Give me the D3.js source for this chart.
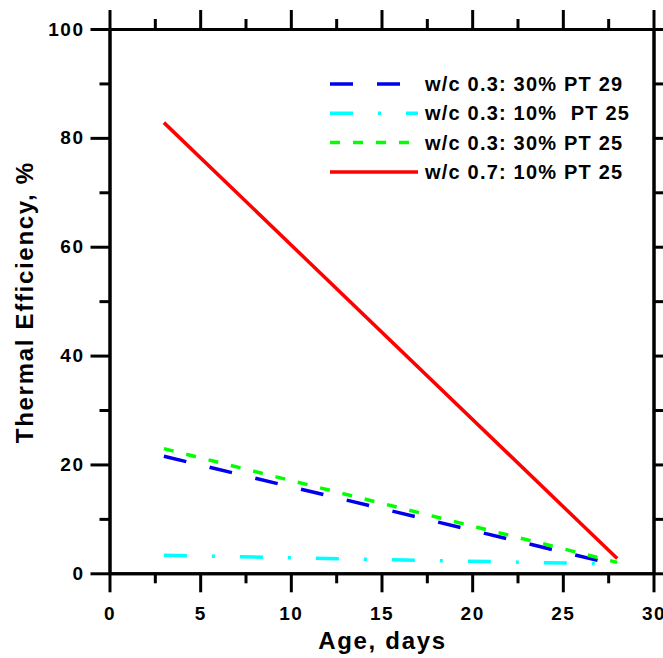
<!DOCTYPE html>
<html>
<head>
<meta charset="utf-8">
<script src="https://cdn.jsdelivr.net/npm/d3@7"></script>
<style>
  body { margin: 0; background: #fff; }
  text { font-family: Arial, "Liberation Sans", sans-serif; font-weight: bold; }
</style>
</head>
<body>
<script>
const w = 663;
const h = 658;

// values
const ages = [3, 28];
const wc03_30_pt29 = [21.5, 1.5];
const wc03_10_pt25 = [3.3, 1.7];
const wc03_30_pt25 = [22.9, 2.0];
const wc07_10_pt25 = [82.8, 2.7];

const xTicks = [0, 5, 10, 15, 20, 25, 30];
const xMinor = [2.5, 7.5, 12.5, 17.5, 22.5, 27.5];
const yTicks = [0, 20, 40, 60, 80, 100];
const yMinor = [10, 30, 50, 70, 90];

const series = [
    { name: "w/c 0.3: 30% PT 29", values: wc03_30_pt29, color: "#0000ee", dash: "23,24" },
    { name: "w/c 0.3: 10%  PT 25", values: wc03_10_pt25, color: "#00ffff", dash: "23,25,3,25" },
    { name: "w/c 0.3: 30% PT 25", values: wc03_30_pt25, color: "#00ff00", dash: "10,13" },
    { name: "w/c 0.7: 10% PT 25", values: wc07_10_pt25, color: "#ff0000", dash: null },
];

const plotLeft = 109.5, plotRight = 653.5, plotTop = 29, plotBottom = 573.3;

const svg = d3.select("body")
    .append("svg")
    .attr("width", w)
    .attr("height", h)
    ;

const xScale = d3.scaleLinear().domain([0, 30]).range([plotLeft, plotRight]);
const yScale = d3.scaleLinear().domain([0, 100]).range([plotBottom, plotTop]);

function styleAxis(g) {
    g.selectAll(".domain").attr("stroke", "#000").attr("stroke-width", 3);
    g.selectAll(".tick line").attr("stroke", "#000").attr("stroke-width", 3);
    g.selectAll(".tick text")
        .attr("fill", "#000")
        .style("font-size", "19px")
        .style("letter-spacing", "1.5px");
}

// major axes
svg.append("g")
    .attr("transform", `translate(0, ${plotBottom})`)
    .call(d3.axisBottom(xScale).tickValues(xTicks).tickSize(19).tickSizeOuter(0).tickPadding(14))
    .call(styleAxis);
svg.append("g")
    .attr("transform", `translate(0, ${plotTop})`)
    .call(d3.axisTop(xScale).tickValues(xTicks).tickSize(19).tickSizeOuter(0).tickFormat(""))
    .call(styleAxis);
svg.append("g")
    .attr("transform", `translate(${plotLeft}, 0)`)
    .call(d3.axisLeft(yScale).tickValues(yTicks).tickSize(19).tickSizeOuter(0).tickPadding(6))
    .call(styleAxis);
svg.append("g")
    .attr("transform", `translate(${plotRight}, 0)`)
    .call(d3.axisRight(yScale).tickValues(yTicks).tickSize(19).tickSizeOuter(0).tickFormat(""))
    .call(styleAxis);

// minor ticks
svg.append("g")
    .attr("transform", `translate(0, ${plotBottom})`)
    .call(d3.axisBottom(xScale).tickValues(xMinor).tickSize(10).tickSizeOuter(0).tickFormat(""))
    .call(styleAxis);
svg.append("g")
    .attr("transform", `translate(0, ${plotTop})`)
    .call(d3.axisTop(xScale).tickValues(xMinor).tickSize(10).tickSizeOuter(0).tickFormat(""))
    .call(styleAxis);
svg.append("g")
    .attr("transform", `translate(${plotLeft}, 0)`)
    .call(d3.axisLeft(yScale).tickValues(yMinor).tickSize(10).tickSizeOuter(0).tickFormat(""))
    .call(styleAxis);
svg.append("g")
    .attr("transform", `translate(${plotRight}, 0)`)
    .call(d3.axisRight(yScale).tickValues(yMinor).tickSize(10).tickSizeOuter(0).tickFormat(""))
    .call(styleAxis);

// axis titles
svg.append("text")
    .attr("x", (plotLeft + plotRight) / 2 + 1)
    .attr("y", 649)
    .attr("text-anchor", "middle")
    .style("font-size", "24px")
    .style("letter-spacing", "1.7px")
    .text("Age, days");
svg.append("text")
    .attr("transform", `translate(33, ${(plotTop + plotBottom) / 2 + 1}) rotate(-90)`)
    .attr("text-anchor", "middle")
    .style("font-size", "24px")
    .style("letter-spacing", "1.7px")
    .text("Thermal Efficiency, %");

// lines
const line = d3.line()
    .x((d, i) => xScale(ages[i]))
    .y(d => yScale(d));

svg.selectAll("path.series")
    .data(series)
    .enter()
    .append("path")
    .attr("class", "series")
    .attr("d", d => line(d.values))
    .attr("fill", "none")
    .attr("stroke", d => d.color)
    .attr("stroke-width", 3.5)
    .attr("stroke-dasharray", d => d.dash)
    ;

// legend
const legend = svg.append("g");
series.forEach((s, i) => {
    const y = 84 + i * 29.3;
    legend.append("line")
        .attr("x1", 330).attr("x2", 418)
        .attr("y1", y).attr("y2", y)
        .attr("stroke", s.color)
        .attr("stroke-width", 3.5)
        .attr("stroke-dasharray", s.dash);
    legend.append("text")
        .attr("x", 425)
        .attr("y", y + 7)
        .attr("xml:space", "preserve")
        .style("white-space", "pre")
        .style("font-size", "20px")
        .style("letter-spacing", "1.2px")
        .text(s.name);
});
</script>
</body>
</html>
